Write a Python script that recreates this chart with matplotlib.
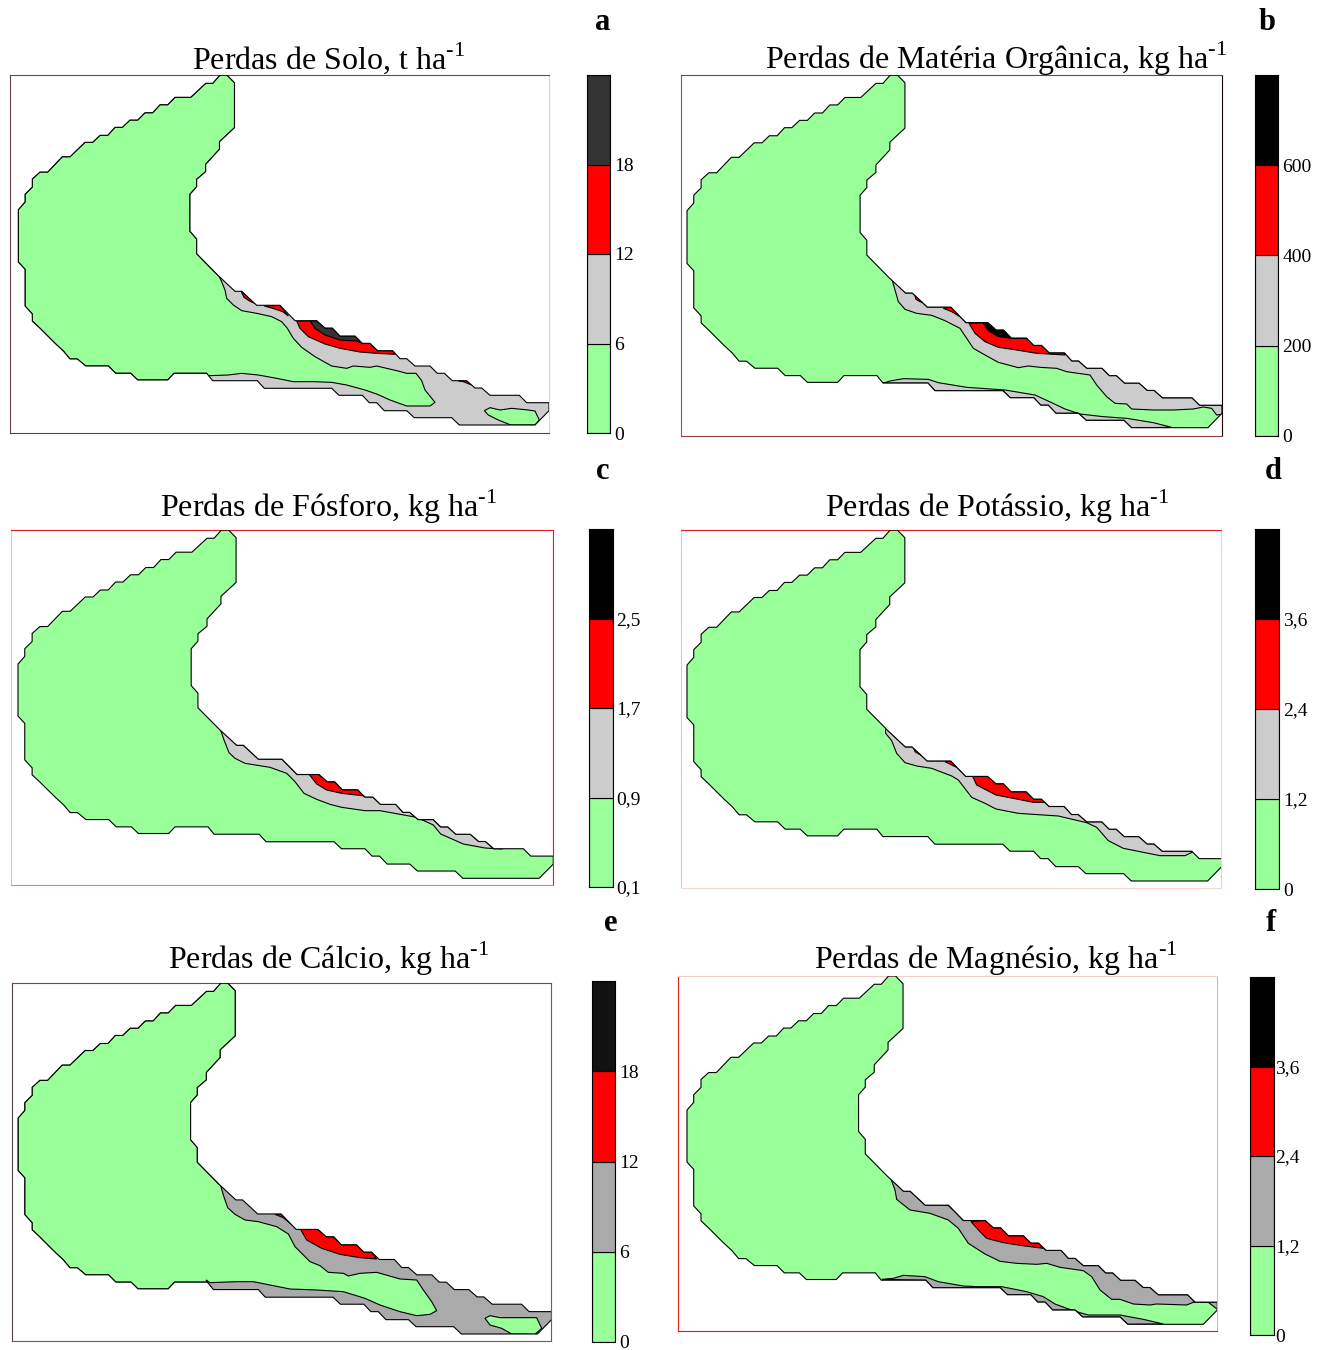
import numpy as np
import matplotlib
matplotlib.use("Agg")
import matplotlib.pyplot as plt
from matplotlib.patches import Polygon

plt.rcParams['font.family'] = ['Liberation Serif', 'DejaVu Serif']
plt.rcParams['mathtext.fontset'] = 'custom'
plt.rcParams['mathtext.rm'] = 'Liberation Serif'

W, H = 1325, 1350

GREEN = '#99ff99'
RED = '#ff0000'
LIGHT = '#cccccc'
MID = '#aaaaaa'

# map outline
HEAD = [(206.7, 373.3), (174, 373.3), (167.7, 380), (137.7, 380), (130.7, 373.3), (115.7, 373.3),
        (108.3, 366), (85.7, 366), (77.3, 359), (70, 359), (63.3, 351), (55, 343.3), (40, 328.3),
        (32.3, 321), (32.3, 314), (25, 306), (25, 269.3), (18.3, 262), (18.3, 209.7), (25, 202),
        (25, 194.3), (32.3, 187), (32.3, 179), (40, 172), (47.7, 172), (62.3, 156.7), (70, 156.7),
        (85, 142.3), (92.7, 142.3), (100, 135.3), (107.7, 135.3), (115, 127.3), (122.3, 127.3),
        (130, 120), (137.7, 120), (145, 112.7), (152.7, 112.7), (160, 104.7), (167.7, 104.7),
        (175, 97.3), (190.7, 97.3), (205.7, 83.3), (212.7, 83.3), (220, 75), (227, 75),
        (234.5, 82.7), (234.5, 127.7), (219.5, 141.7), (219.5, 149.3), (205.7, 164.3),
        (205.7, 171.7), (196.7, 179.3), (196.7, 186.7), (190, 194.3), (190, 231.3), (196.7, 239),
        (196.7, 253.7), (218.3, 275.7)]
TAIL_TOP = [(235, 291.3), (241.7, 291.3), (256.7, 305.3), (280, 305.3), (295, 320.7), (316.7, 320.7),
            (325, 328), (332.3, 328), (340, 336), (355, 336), (362.3, 343.3), (370, 343.3),
            (377.7, 350.7), (392.7, 350.7), (400, 358.7), (406.7, 358.7), (415, 366), (430, 366),
            (437.3, 373.3), (444.3, 373.3), (452.3, 380.7), (466.7, 380.7), (475, 388), (481.7, 388),
            (490, 395.3), (519.3, 395.3), (526.7, 402.7), (549, 402.7)]
TAIL_BOTTOM = [(549, 410.7), (535, 425), (459.3, 425), (451.7, 417.7), (414.3, 417.7), (406.7, 410.7),
               (384.3, 410.7), (376.7, 402.7), (369.3, 402.7), (362.3, 395.3), (339, 395.3),
               (331.7, 388.3), (264.3, 388.3), (257.3, 380.7), (212.7, 380.7)]

A_GREEN = [(55, 45), (65, 65), (75, 90), (80, 115), (100, 135), (125, 152), (170, 160), (215, 170),
           (245, 185), (262, 205), (280, 235), (305, 262), (345, 290), (395, 318), (440, 325),
           (460, 318), (510, 322), (530, 318), (590, 332), (620, 340), (648, 340), (665, 362),
           (675, 390), (705, 427), (690, 438), (620, 438), (570, 420), (530, 402), (495, 390),
           (440, 375), (395, 367), (340, 365), (280, 365), (230, 355), (175, 345), (125, 340),
           (85, 345), (25, 347), (18, 340)]
A_ISLAND = [(853, 452), (870, 443), (900, 450), (935, 445), (985, 450), (1005, 453), (1018, 480),
            (1005, 495), (932, 495), (895, 480), (865, 465)]
A_RED1 = [(125, 97), (132, 112), (150, 124), (165, 130)]
A_RED2 = [(193, 138), (225, 147), (248, 155), (265, 168)]
A_RED3 = [(290, 183), (300, 205), (325, 230), (375, 252), (420, 265), (480, 276), (530, 280), (585, 283)]
A_RED4 = [(775, 362), (790, 365), (815, 375)]
A_DARK = [(330, 182), (345, 205), (375, 225), (420, 240), (470, 243), (487, 250)]

B_GRAY = [(65, 55), (75, 90), (85, 125), (105, 148), (140, 160), (185, 166), (225, 182), (270, 205),
          (290, 235), (310, 265), (345, 285), (385, 307), (445, 323), (475, 318), (510, 322),
          (560, 325), (590, 335), (660, 345), (680, 375), (710, 410), (735, 430), (770, 432),
          (785, 447), (850, 450), (910, 450), (970, 447), (1000, 441), (1025, 445), (1040, 465),
          (1060, 462)]
B_LOWER = [(38, 370), (60, 363), (100, 356), (175, 358), (205, 368), (290, 382), (405, 390), (495, 405),
           (545, 428), (585, 447), (630, 462), (700, 470), (770, 475), (850, 488), (905, 502)]
B_RED1 = [(132, 98), (138, 118), (150, 125), (158, 128)]
B_RED2 = [(220, 145), (245, 155), (270, 170)]
B_RED3 = [(297, 190), (315, 220), (345, 245), (385, 262), (440, 270), (500, 280), (535, 282), (585, 285)]
B_DARK = [(340, 190), (355, 212), (385, 230), (425, 235), (470, 235), (490, 252)]

C_GRAY = [(60, 55), (72, 90), (87, 128), (105, 145), (135, 160), (210, 172), (260, 190), (285, 215),
          (312, 250), (350, 268), (390, 283), (425, 292), (495, 302), (540, 302), (650, 322),
          (700, 345), (722, 372), (790, 402), (855, 414), (905, 417), (915, 413)]
C_RED = [(325, 190), (350, 222), (380, 240), (425, 250), (495, 258)]

D_GRAY = [(47, 55), (47, 70), (65, 92), (80, 130), (105, 158), (140, 168), (185, 175), (245, 198),
          (265, 210), (305, 262), (345, 280), (378, 297), (445, 310), (565, 318), (650, 338),
          (680, 352), (715, 392), (760, 415), (870, 437), (945, 437), (970, 425)]
D_RED1 = [(128, 107), (135, 125), (148, 133), (155, 135)]
D_RED2 = [(225, 155), (245, 165), (260, 172)]
D_RED3 = [(307, 197), (320, 225), (378, 255), (440, 267), (490, 277), (525, 277)]

E_GREEN = [(60, 55), (70, 90), (83, 128), (105, 148), (135, 165), (175, 170), (230, 185), (265, 207),
           (285, 245), (330, 290), (360, 302), (385, 322), (430, 325), (445, 333), (480, 325),
           (530, 322), (600, 342), (650, 345), (670, 375), (695, 410), (710, 437), (690, 448),
           (650, 452), (600, 440), (540, 420), (495, 400), (430, 380), (350, 375), (270, 372),
           (160, 350), (110, 350), (30, 353), (18, 345)]
E_ISLAND = [(855, 460), (870, 452), (900, 458), (1010, 458), (1025, 490), (1005, 508), (935, 507),
            (905, 490), (870, 480)]
E_RED1 = [(140, 105), (150, 118), (158, 128)]
E_RED2 = [(225, 148), (250, 158), (275, 178)]
E_RED3 = [(300, 190), (320, 225), (365, 250), (420, 268), (480, 278), (530, 282)]

F_GRAY = [(62, 55), (75, 90), (80, 118), (120, 150), (180, 160), (235, 180), (265, 205), (295, 250),
          (345, 282), (390, 304), (440, 310), (500, 313), (530, 310), (570, 322), (640, 332),
          (665, 350), (690, 390), (725, 418), (750, 418), (790, 432), (840, 435), (860, 432),
          (950, 435), (970, 427), (1015, 427), (1045, 450)]
F_LOWER = [(35, 358), (70, 355), (100, 346), (165, 350), (205, 365), (280, 378), (320, 380), (395, 380),
           (470, 395), (520, 410), (555, 432), (590, 445), (630, 458), (655, 465), (750, 465),
           (820, 478), (880, 492)]
F_RED1 = [(232, 135), (240, 140), (247, 147)]
F_RED3 = [(303, 185), (330, 215), (350, 235), (400, 248), (450, 256), (520, 265)]

TITLES = ["Perdas de Solo, t ha", "Perdas de Matéria Orgânica, kg ha", "Perdas de Fósforo, kg ha",
          "Perdas de Potássio, kg ha", "Perdas de Cálcio, kg ha", "Perdas de Magnésio, kg ha"]
LETTERS = ["a", "b", "c", "d", "e", "f"]
LEVELS_SOLO = [0, 6, 12, 18, 24]
LEVELS_MO = [0, 200, 400, 600, 800]
LEVELS_P = [0.1, 0.9, 1.7, 2.5, 3.3]
LEVELS_K = [0, 1.2, 2.4, 3.6, 4.8]
LEVELS_CA = [0, 6, 12, 18, 24]
LEVELS_MG = [0, 1.2, 2.4, 3.6, 4.8]

panels = [
    dict(frame=(10, 549, 75, 433), crop=(200, 260), bbox=(18.3, 549, 75, 425), base=LIGHT,
         bar=(587, 610, 75, 433), top='#333333', second=LIGHT, levels=LEVELS_SOLO, pad=3,
         title_xy=(328, 69), letter_xy=(603, 30),
         spines=dict(left='#5a4040', top='#6a4a4a', bottom='#5a4040', right='#e6d0c0'),
         layers=[('body', A_GREEN, GREEN), ('patch', A_ISLAND, GREEN), ('top', A_RED1, RED),
                 ('top', A_RED2, RED), ('top', A_RED3, RED), ('top', A_RED4, RED), ('top', A_DARK, '#333333')]),
    dict(frame=(681, 1222, 75, 436), crop=(870, 260), bbox=(687, 1222, 75, 427.7), base=GREEN,
         bar=(1255, 1278, 75, 436), top='#000000', second=LIGHT, levels=LEVELS_MO, pad=3,
         title_xy=(996, 69), letter_xy=(1267, 30),
         spines=dict(left='#a05050', top='#6a4a4a', bottom='#904040', right='#200000'),
         layers=[('top', B_GRAY, LIGHT), ('bottom', B_LOWER, LIGHT), ('top', B_RED1, RED),
                 ('top', B_RED2, RED), ('top', B_RED3, RED), ('top', B_DARK, '#000000')]),
    dict(frame=(11, 553, 530, 885), crop=(200, 710), bbox=(18, 553.3, 530, 878.3), base=GREEN,
         bar=(589, 613, 529, 887), top='#000000', second=LIGHT, levels=LEVELS_P, pad=2,
         title_xy=(328, 517), letter_xy=(603, 479),
         spines=dict(left='#f0c0c0', top='#e02020', bottom='#e88070', right='#e02020'),
         layers=[('top', C_GRAY, LIGHT), ('top', C_RED, RED)]),
    dict(frame=(681, 1221, 530, 888), crop=(870, 710), bbox=(687, 1221.7, 530, 881), base=GREEN,
         bar=(1255, 1279, 529, 889), top='#000000', second=LIGHT, levels=LEVELS_K, pad=3,
         title_xy=(997, 517), letter_xy=(1273, 479),
         spines=dict(left='#f0c0c0', top='#e02020', bottom='#f5d8d0', right='#f0d0c8'),
         layers=[('top', D_GRAY, LIGHT), ('top', D_RED1, RED), ('top', D_RED2, RED), ('top', D_RED3, RED)]),
    dict(frame=(12, 551, 983, 1341), crop=(200, 1165), bbox=(18, 551.5, 983, 1334), base=MID,
         bar=(592, 615, 981, 1342), top='#111111', second=MID, levels=LEVELS_CA, pad=3,
         title_xy=(328, 969), letter_xy=(611, 931),
         spines=dict(left='#5a4040', top='#6a4a4a', bottom='#905050', right='#905050'),
         layers=[('body', E_GREEN, GREEN), ('patch', E_ISLAND, GREEN), ('top', E_RED1, RED),
                 ('top', E_RED2, RED), ('top', E_RED3, RED)]),
    dict(frame=(678, 1217, 976, 1331), crop=(870, 1160), bbox=(687, 1217.3, 976, 1324.3), base=GREEN,
         bar=(1250, 1274, 977, 1335), top='#000000', second=MID, levels=LEVELS_MG, pad=1,
         title_xy=(996, 969), letter_xy=(1271, 931),
         spines=dict(left='#e02020', top='#f5d0c8', bottom='#d02020', right='#e0b0a8'),
         layers=[('top', F_GRAY, MID), ('bottom', F_LOWER, MID), ('top', F_RED1, RED), ('top', F_RED3, RED)]),
]


def fit(points, bbox):
    # the same outline sits at a slightly different size in each panel
    all_pts = np.array(HEAD + TAIL_TOP + TAIL_BOTTOM)
    lo, hi = all_pts.min(axis=0), all_pts.max(axis=0)
    pts = np.array(points)
    x = bbox[0] + (pts[:, 0] - lo[0]) / (hi[0] - lo[0]) * (bbox[1] - bbox[0])
    y = bbox[2] + (pts[:, 1] - lo[1]) / (hi[1] - lo[1]) * (bbox[3] - bbox[2])
    return np.column_stack([x, y])


def band(curve, edge):
    # area between a boundary curve and the part of the outer edge it spans
    edge = edge[np.argsort(edge[:, 0], kind='stable')]
    keep = (edge[:, 0] > curve[:, 0].min()) & (edge[:, 0] < curve[:, 0].max())
    return np.vstack([curve, edge[keep][::-1]])


def fmt(v):
    return f"{v:g}".replace('.', ',')


fig = plt.figure(figsize=(W / 100, H / 100), dpi=100)

for n, p in enumerate(panels):
    x0, x1, y0, y1 = p['frame']
    ax = fig.add_axes([x0 / W, 1 - y1 / H, (x1 - x0) / W, (y1 - y0) / H])
    ax.set_xlim(x0, x1)
    ax.set_ylim(y1, y0)
    ax.set_xticks([])
    ax.set_yticks([])
    for side, col in p['spines'].items():
        ax.spines[side].set_color(col)
        ax.spines[side].set_linewidth(0.8)

    head = fit(HEAD, p['bbox'])
    top = fit(TAIL_TOP, p['bbox'])
    bottom = fit(TAIL_BOTTOM, p['bbox'])
    outline = np.vstack([head, top, bottom])

    base = Polygon(outline, closed=True, facecolor=p['base'], edgecolor='none', zorder=1)
    ax.add_patch(base)

    for i, (kind, pts, color) in enumerate(p['layers']):
        curve = np.array(p['crop']) + np.array(pts) / 3
        if kind == 'top':
            verts = band(curve, top)
        elif kind == 'bottom':
            verts = band(curve, bottom)
        elif kind == 'body':
            verts = np.vstack([head, curve])
        else:
            verts = curve
        patch = Polygon(verts, closed=True, facecolor=color, edgecolor='black', linewidth=0.8, zorder=2 + i * 0.01)
        ax.add_patch(patch)
        patch.set_clip_path(base)

    ax.add_patch(Polygon(outline, closed=True, fill=False, edgecolor='black', linewidth=0.8, zorder=3))

    fig.text(p['title_xy'][0] / W, 1 - p['title_xy'][1] / H, TITLES[n] + r"$^{\text{-1}}$",
             ha='center', va='baseline', fontsize=23)
    fig.text(p['letter_xy'][0] / W, 1 - p['letter_xy'][1] / H, LETTERS[n],
             ha='center', va='baseline', fontsize=22, fontweight='bold')

    # colour scale
    bx0, bx1, by0, by1 = p['bar']
    cax = fig.add_axes([bx0 / W, 1 - by1 / H, (bx1 - bx0) / W, (by1 - by0) / H])
    levels = p['levels']
    cax.bar(0, np.diff(levels), bottom=levels[:-1], width=1,
            color=[GREEN, p['second'], RED, p['top']], edgecolor='black', linewidth=0.8)
    cax.set_xlim(-0.5, 0.5)
    cax.set_ylim(levels[0], levels[-1])
    cax.set_xticks([])
    cax.yaxis.tick_right()
    cax.set_yticks(levels[:-1])
    cax.set_yticklabels([fmt(v) for v in levels[:-1]], fontsize=14)
    cax.tick_params(axis='y', length=0, pad=p['pad'])
    for s in cax.spines.values():
        s.set_linewidth(0.8)

fig.savefig("out.png", dpi=100)
